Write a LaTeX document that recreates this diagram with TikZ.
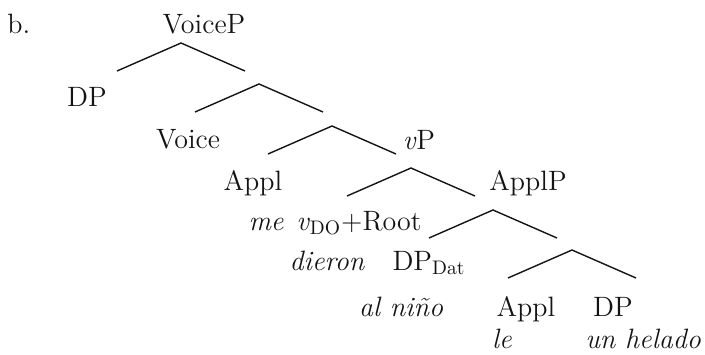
\documentclass[tikz,border=0pt]{standalone}
\usepackage{xcolor}
\usepackage{tikz}
\usetikzlibrary{positioning}
\definecolor{treeink}{RGB}{20,20,20}

\begin{document}
\begin{tikzpicture}[
  x=0.5pt, y=-0.5pt,
  cat/.style={anchor=base, inner sep=0pt, text=treeink,
              font=\fontsize{14}{16}\selectfont},
  gloss/.style={cat, font=\fontsize{14}{16}\selectfont\itshape},
  branch/.style={draw=treeink, line width=0.7pt}
]
\useasboundingbox (0,0) rectangle (705,354);
\node[cat, anchor=base west] (ex) at (7,33) {b.};
\node[cat] (voicep) at (204,33) {VoiceP};
\node[cat] (dp) at (87,106) {DP};
\node[cat] (voice) at (188,148) {Voice};
\node[cat] (vp) at (419,149) {\textit{v}P};
\node[cat] (appl) at (253,190) {Appl};
\node[cat] (applp) at (528,190) {ApplP};
\node[gloss] (me) at (266,230) {me};
\node[cat] (vroot) at (359,230) {\textit{v}\textsubscript{DO}+Root};
\node[gloss] (dieron) at (327,270) {dieron};
\node[cat] (dpdat) at (429,270) {DP\textsubscript{Dat}};
\node[gloss] (alnino) at (401,316) {al niño};
\node[cat] (applhead) at (526,316) {Appl};
\node[cat] (dpobj) at (613,316) {DP};
\node[gloss] (le) at (502,348) {le};
\node[gloss] (helado) at (643,348) {un helado};

% branching points
\coordinate (n1) at (181,43);
\coordinate (n2) at (259,84);
\coordinate (n3) at (332,126);
\coordinate (n4) at (411,168);
\coordinate (n5) at (493,210);
\coordinate (n6) at (572,250);

\foreach \i in {1,...,6}
  \draw[branch] (n\i) ++(-64,28) -- (n\i) -- ++(64,28);
\end{tikzpicture}
\end{document}
